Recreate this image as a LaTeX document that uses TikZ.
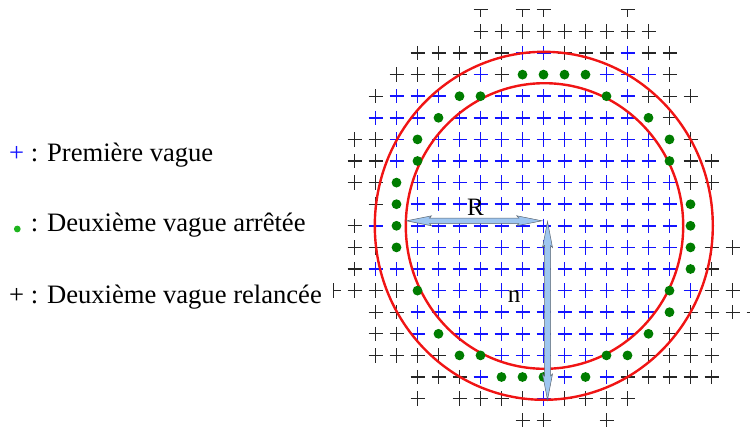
\documentclass[tikz,border=0pt]{standalone}
\usepackage{fontspec}
\setmainfont{Liberation Serif}
\usetikzlibrary{calc}
\definecolor{dgreen}{RGB}{0,125,0}
\definecolor{lgreen}{RGB}{30,180,30}
\definecolor{redc}{RGB}{240,20,20}
\definecolor{arrowfill}{RGB}{158,198,240}
\definecolor{arrowline}{RGB}{90,100,110}
\definecolor{bluec}{RGB}{20,20,255}
\begin{document}
\begin{tikzpicture}[x=1pt,y=-1pt,
  kcross/.pic={\draw[line width=1.35pt,black!85] (-7,0)--(7,0) (0,-7.2)--(0,7.2);},
  bcross/.pic={\draw[line width=1.5pt,bluec] (-7,0)--(7,0) (0,-7.2)--(0,7.2);},
  ktee/.pic={\draw[line width=1.35pt,black!85] (-7,0)--(7,0) (0,0)--(0,7.2);},
  kleft/.pic={\draw[line width=1.35pt,black!85] (0,0)--(7,0) (0,-7.2)--(0,7.2);},
  gdot/.pic={\fill[dgreen] (0,0) circle[radius=4.9pt];},
  ring/.style={draw=redc,line width=2.4pt},
  arrowbody/.style={fill=arrowfill,draw=arrowline,line width=0.5pt,line join=miter},
  lbl/.style={inner sep=0pt,anchor=base,font=\fontsize{25}{28}\selectfont},
  legend/.style={inner sep=0pt,anchor=base west,font=\fontsize{26.6}{30}\selectfont}]
\useasboundingbox (0,0) rectangle (750,429);

% black crosses
\foreach \j/\l in {
 -9/{-3,-2,-1,0,1,2,3,4,5},
 -8/{-6,-5,-4,-3,-2,1,2,3,5,6},
 -7/{-7,-6,-5,-4,-2,6},
 -6/{-8,5,6,7},
 -5/{6},
 -4/{-9,-8,7},
 -3/{-9,-8,7,8},
 -2/{-9,-8,7,8},
 -1/{-8},
 0/{-9},
 1/{-9,-8,8,9},
 2/{-9,8},
 3/{-9,-8,-7,8,9},
 4/{-8,-7,7,8,9,10},
 5/{-8,-7,6,7,8},
 6/{-8,-7,-6,-5,5,6,7,8},
 7/{-6,-5,-4,4,5,6,7,8},
 8/{-6,-4,-3,-2,-1,1,2,3,4},
 9/{-1,0,3}}
 {\foreach \i in \l {\pic at ({543.5+21*\i},{225.8+21.6*\j}) {kcross};}}
\foreach \i in {-3,-1,0,4} {\pic at ({543.5+21*\i},9.8) {ktee};}
\pic at ({543.5-210},{225.8+21.6*3}) {kleft};

% blue crosses
\foreach \j/\l in {
 -8/{-1,0,4},
 -7/{-3,3,4,5},
 -6/{-7,-6,-5,-2,-1,0,1,2,4},
 -5/{-8,-7,-6,-4,-3,-2,-1,0,1,2,3,4},
 -4/{-7,-5,-4,-3,-2,-1,0,1,2,3,4,5},
 -3/{-7,-5,-4,-3,-2,-1,0,1,2,3,4,5},
 -2/{-6,-5,-4,-3,-2,-1,0,1,2,3,4,5,6},
 -1/{-6,-5,-4,-3,-2,-1,0,1,2,3,4,5,6},
 0/{-8,-6,-5,-4,-3,-2,-1,0,1,2,3,4,5,6},
 1/{-6,-5,-4,-3,-2,-1,0,1,2,3,4,5,6},
 2/{-8,-7,-6,-5,-4,-3,-2,-1,0,1,2,3,4,5,6},
 3/{-5,-4,-3,-2,-1,0,1,2,3,4,5,7},
 4/{-6,-5,-4,-3,-2,-1,0,1,2,3,4,5},
 5/{-6,-4,-3,-2,-1,0,1,2,3,4},
 6/{-2,-1,0,1,2},
 7/{-3,1,3},
 8/{0}}
 {\foreach \i in \l {\pic at ({543.5+21*\i},{225.8+21.6*\j}) {bcross};}}

% red circles
\draw[ring] (543.8,225.8) ellipse [x radius=169pt, y radius=174pt];
\draw[ring] (544.5,226) ellipse [x radius=138.7pt, y radius=142.8pt];

% green dots
\foreach \j/\l in {
 -7/{-1,0,1,2},
 -6/{-4,-3,3},
 -5/{-5,5},
 -4/{-6,6},
 -3/{-6,6},
 -2/{-7},
 -1/{-7,7},
 0/{-7,7},
 1/{-7,7},
 2/{7},
 3/{-6,6},
 4/{6},
 5/{-5,5},
 6/{-4,-3,3,4},
 7/{-2,-1,0,2}}
 {\foreach \i in \l {\pic at ({543.5+21*\i},{225.8+21.6*\j}) {gdot};}}

% arrows
\coordinate (RL) at (406.5,220.8);
\coordinate (RR) at (541.8,220.8);
\coordinate (NT) at (547.5,221.5);
\coordinate (NB) at (547.5,400);
\draw[arrowbody] (RL) -- ($(RL)+(25,-5)$) -- ($(RL)+(23,-2.8)$) -- ($(RR)+(-23,-2.8)$)
  -- ($(RR)+(-25,-5)$) -- (RR) -- ($(RR)+(-25,5)$) -- ($(RR)+(-23,2.8)$)
  -- ($(RL)+(23,2.8)$) -- ($(RL)+(25,5)$) -- cycle;
\draw[arrowbody] (NT) -- ($(NT)+(-5,26)$) -- ($(NT)+(-3,24)$) -- ($(NB)+(-3,-24)$)
  -- ($(NB)+(-5,-26)$) -- (NB) -- ($(NB)+(5,-26)$) -- ($(NB)+(3,-24)$)
  -- ($(NT)+(3,24)$) -- ($(NT)+(5,26)$) -- cycle;

% labels
\node[lbl] (R) at (475.5,215.5) {R};
\node[lbl] (n) at (514,302) {n};

% legend
\node[legend] (L1) at (9,161.7) {{\color{bluec}+} : Première vague};
\fill[lgreen] (17.3,229) circle[radius=3.4pt];
\node[legend] (L2) at (9,231.7) {\phantom{+} : Deuxième vague arrêtée};
\node[legend] (L3) at (9,303.3) {+ : Deuxième vague relancée};
\end{tikzpicture}
\end{document}
